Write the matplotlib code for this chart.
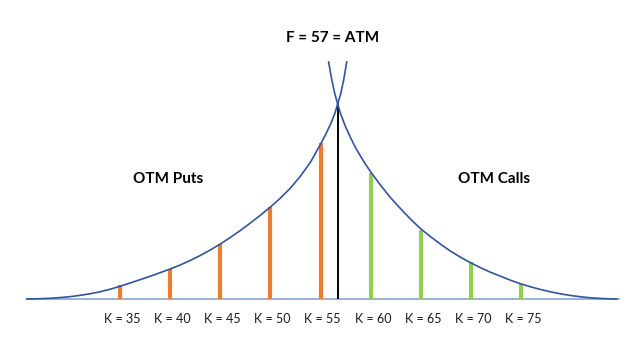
import matplotlib
matplotlib.use("Agg")
import matplotlib.pyplot as plt

# strikes and option values
put_strikes = [35, 40, 45, 50, 55]
put_values = [1.4, 3.0, 5.5, 9.2, 15.6]
call_strikes = [60, 65, 70, 75]
call_values = [12.6, 6.9, 3.7, 1.5]
atm_strike = 56.7
atm_value = 19.7

# the two value curves
put_curve_k = [25.7, 26, 27, 28, 29, 30, 31, 32, 33, 34, 35, 36, 37, 38, 39, 40,
               41, 42, 43, 44, 45, 46, 47, 48, 49, 50, 51, 52, 53, 54, 55,
               55.5, 56, 56.4, 56.7, 57, 57.3, 57.6]
put_curve_v = [0.0, 0.004, 0.03, 0.07, 0.14, 0.23, 0.36, 0.52, 0.72, 0.97, 1.27,
               1.6, 1.93, 2.27, 2.63, 3.0, 3.4, 3.85, 4.35, 4.9, 5.5, 6.15, 6.85,
               7.6, 8.38, 9.2, 10.1, 11.1, 12.3, 13.7, 15.5,
               16.45, 17.5, 18.5, 19.5, 20.5, 21.9, 23.7]
call_curve_k = [55.8, 56.1, 56.4, 56.7, 57, 57.5, 58, 58.5, 59, 59.5, 60, 61, 62,
                63, 64, 65, 66, 67, 68, 69, 70, 71, 72, 73, 74, 75, 76, 77, 78,
                79, 80, 81, 82, 83, 84, 84.5]
call_curve_v = [23.7, 22.0, 20.6, 19.5, 18.5, 17.2, 16.1, 15.1, 14.25, 13.45, 12.7,
                11.35, 10.1, 9.0, 7.95, 7.0, 6.2, 5.45, 4.75, 4.15, 3.6, 3.1, 2.65,
                2.25, 1.85, 1.5, 1.2, 0.93, 0.7, 0.5, 0.34, 0.21, 0.11, 0.05, 0.01, 0.0]
baseline_k = [25.7, 84.7]

strike_labels = [f"K = {k}" for k in put_strikes + call_strikes]

plt.rcParams["font.family"] = ["Lato", "DejaVu Sans"]

fig = plt.figure(figsize=(6.4, 3.6), dpi=100)
ax = fig.add_axes([0, 0, 1, 1])
ax.set_xlim(23.04, 86.84)
ax.set_ylim(-6.1, 29.9)
ax.axis("off")

ax.plot(baseline_k, [0, 0], color="#8FAADC", lw=1.3, zorder=1)
ax.vlines(put_strikes, 0, put_values, color="#ED7D31", lw=3.0, zorder=2)
ax.vlines(call_strikes, 0, call_values, color="#92D050", lw=3.0, zorder=2)
ax.vlines([atm_strike], 0, [atm_value], color="black", lw=1.4, zorder=2)
ax.plot(put_curve_k, put_curve_v, color="#2F55A4", lw=1.2, zorder=3)
ax.plot(call_curve_k, call_curve_v, color="#2F55A4", lw=1.2, zorder=3)

for k, lab in zip(put_strikes + call_strikes, strike_labels):
    ax.text(k + 0.2, -2.0, lab, ha="center", va="center", fontsize=9, color="#1a1a1a")

ax.text(56.2, 26.1, "F = 57 = ATM", ha="center", va="center", fontsize=11, fontweight="bold")
ax.text(39.8, 12.0, "OTM Puts", ha="center", va="center", fontsize=11, fontweight="bold")
ax.text(72.3, 12.0, "OTM Calls", ha="center", va="center", fontsize=11, fontweight="bold")

fig.savefig("out.png", dpi=100)
